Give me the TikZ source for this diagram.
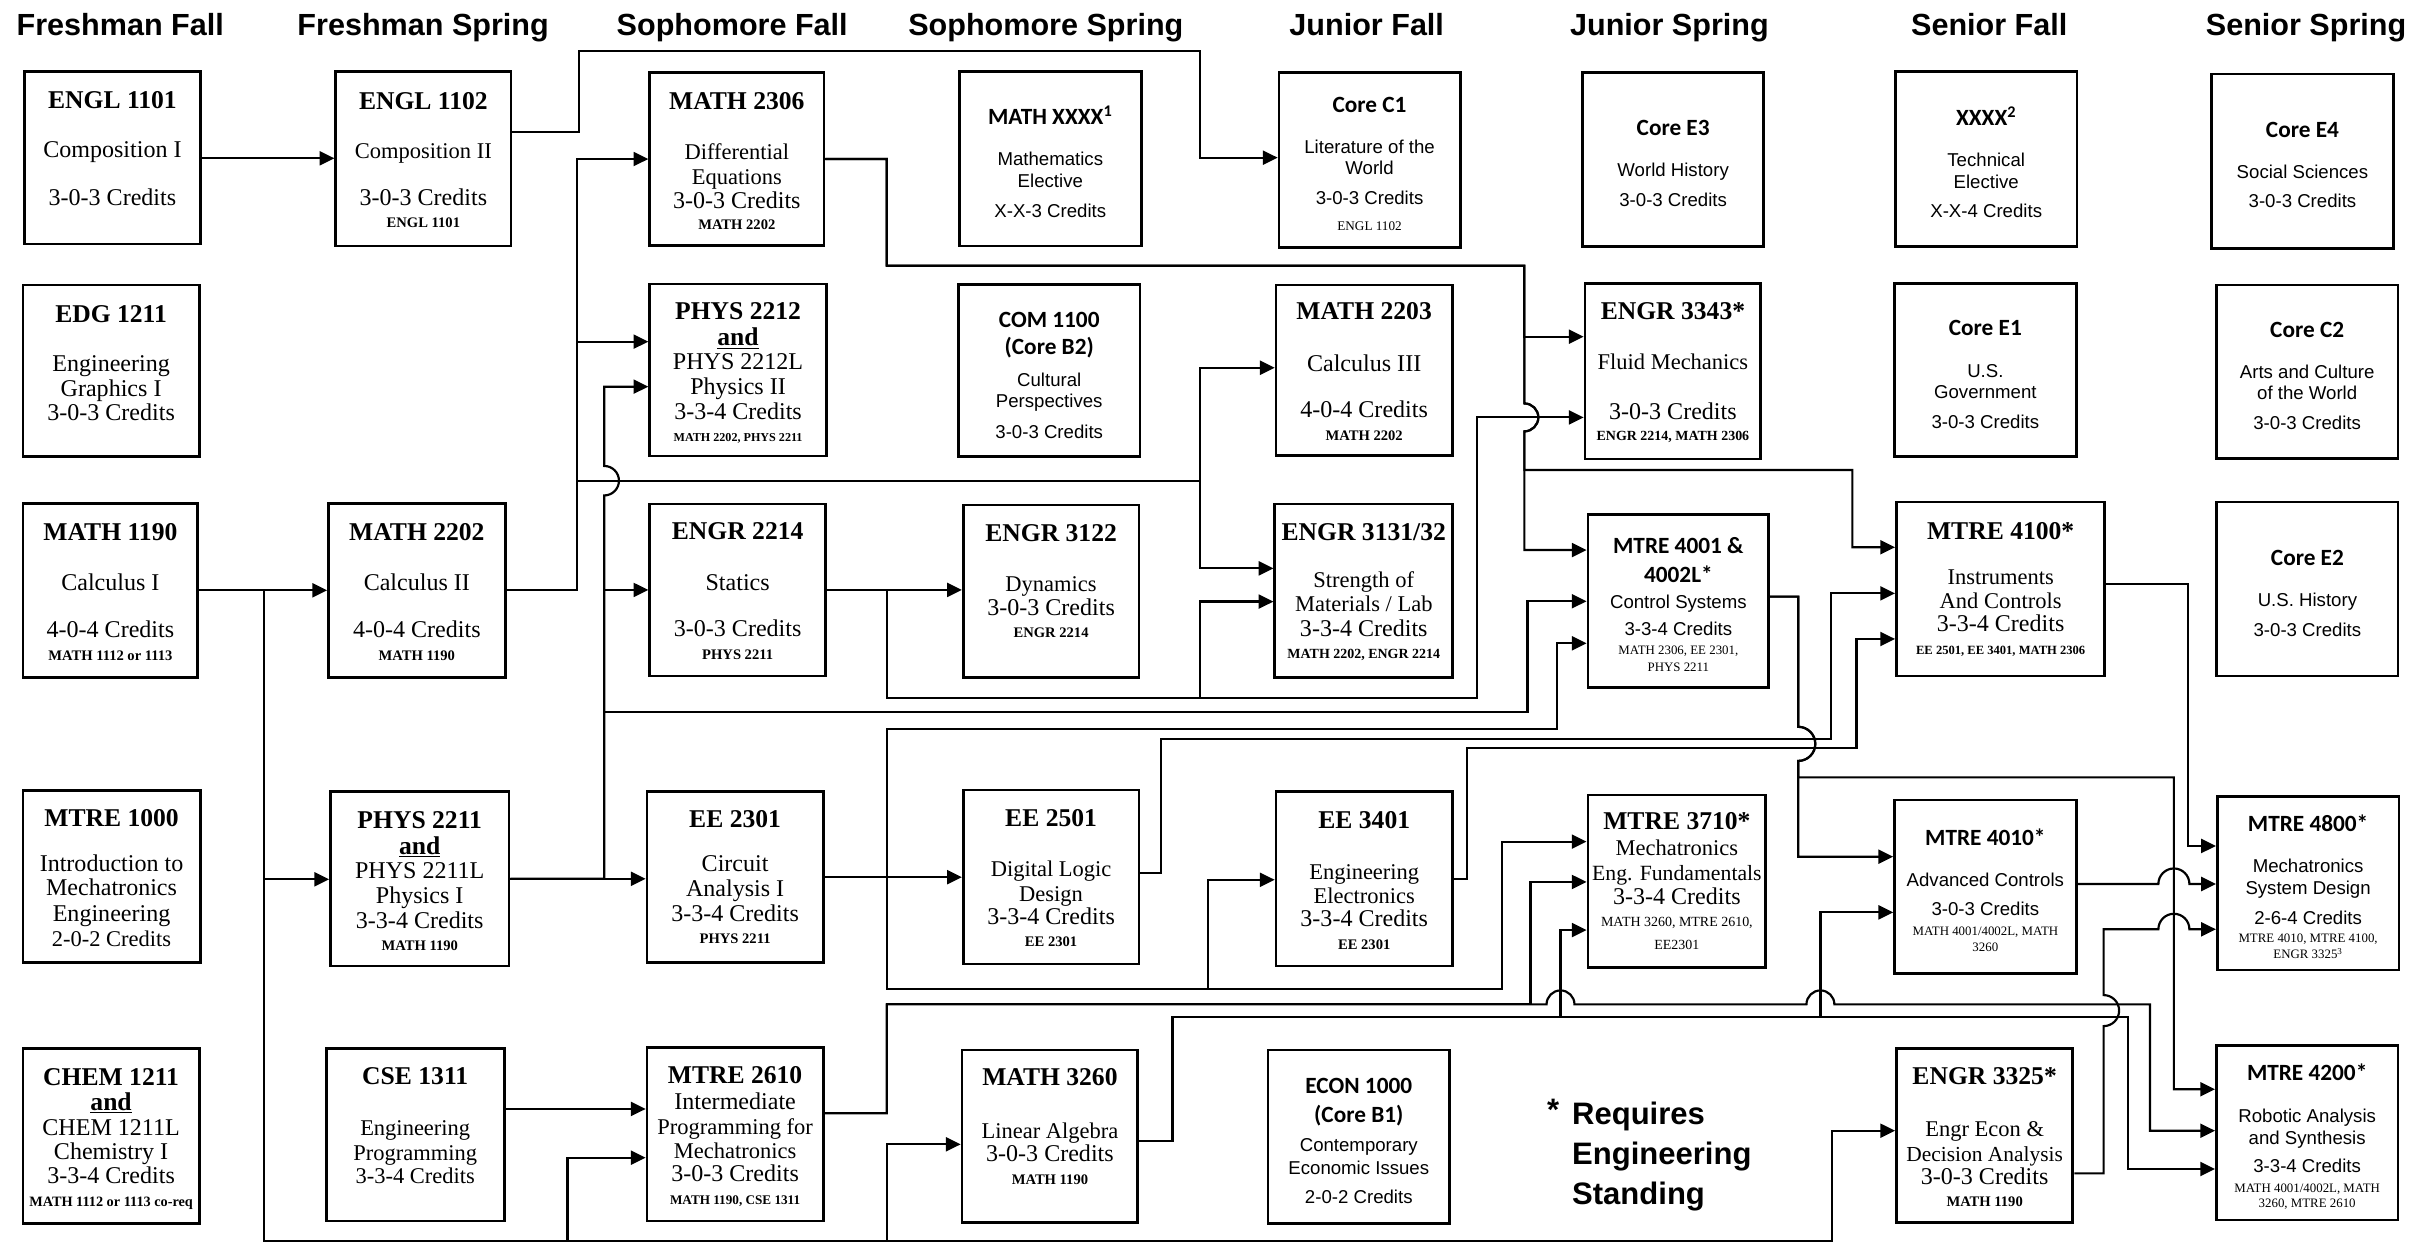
\documentclass[tikz,border=0pt]{standalone}
\usepackage{fontspec}
\setmainfont{Liberation Serif}
\newfontfamily\calibri{Carlito}
\newfontfamily\arialfont{Liberation Sans}
\usetikzlibrary{arrows.meta}
\lineskiplimit=-\maxdimen
\newcommand\ftit{\bfseries\fontsize{16.5}{14}\selectfont}
\newcommand\fbody{\fontsize{14.5}{14}\selectfont}
\newcommand\fcred{\fontsize{15.5}{14}\selectfont}
\newcommand\fpreb{\bfseries\fontsize{9.4}{14}\selectfont}
\newcommand\fpre{\fontsize{8.3}{14}\selectfont}
\newcommand\fctit{\calibri\bfseries\fontsize{15}{14}\selectfont}
\newcommand\fabody{\arialfont\fontsize{12}{14}\selectfont}
% name, left, top, right, bottom, top of text, text
\newcommand{\course}[7]{%
  \node[crs, minimum width={(#4-#2)*1pt}, minimum height={(#5-#3)*1pt}] (#1) at ({(#2+#4)/2},{-(#3+#5)/2}) {};
  \node[txt] (#1t) at ({(#2+#4)/2},{-#6}) {#7};}
\begin{document}
\begin{tikzpicture}[x=1pt, y=1pt,
  crs/.style={draw, line width=1.8pt, inner sep=0pt},
  txt/.style={anchor=north, align=center, inner sep=0pt, font=\fontsize{12}{14}\selectfont},
  hd/.style={anchor=base, inner sep=0pt, font=\arialfont\bfseries\fontsize{19.7}{20}\selectfont},
  ln/.style={line width=1.4pt},
  arr/.style={ln, -{Triangle[length=9.5pt,width=9pt]}}]

	\useasboundingbox (0,0) rectangle (1568,-802);

	\node[hd] (hfrf) at (77.5,-22.6) {Freshman Fall};
	\node[hd] (hfrs) at (272.7,-22.6) {Freshman Spring};
	\node[hd] (hsof) at (471.9,-22.6) {Sophomore Fall};
	\node[hd] (hsos) at (674,-22.6) {Sophomore Spring};
	\node[hd] (hjuf) at (880.8,-22.6) {Junior Fall};
	\node[hd] (hjus) at (1075.9,-22.6) {Junior Spring};
	\node[hd] (hsef) at (1282,-22.6) {Senior Fall};
	\node[hd] (hses) at (1486.2,-22.6) {Senior Spring};

	% freshman fall
	\course{engl1101}{15.9}{46.2}{129}{157.3}{58.5}{\ftit ENGL 1101\\[17.9pt]\fcred Composition I\\[16.8pt]\fcred 3-0-3 Credits}
	\course{edg1211}{14.8}{183.7}{128.4}{294.3}{196.8}{\ftit EDG 1211\\[17.3pt]\fcred Engineering\\[2.1pt]\fcred Graphics I\\[1.7pt]\fcred 3-0-3 Credits}
	\course{math1190}{14.8}{324.4}{127.5}{436.5}{337}{\ftit MATH 1190\\[18.2pt]\fcred Calculus I\\[16.3pt]\fcred 4-0-4 Credits\\[0.9pt]\fpreb MATH 1112 or 1113}
	\course{mtre1000}{14.8}{509.6}{129}{620.4}{521.8}{\ftit MTRE 1000\\[14.9pt]\fcred Introduction to\\[1.5pt]\fcred Mechatronics\\[2.5pt]\fcred Engineering\\[2.2pt]\fbody 2-0-2 Credits}
	\course{chem1211}{14.8}{675.8}{128.4}{788.4}{688.7}{\ftit CHEM 1211\\[1.7pt]\ftit\underline{and}\\[2.1pt]\fcred CHEM 1211L\\[1.7pt]\fcred Chemistry I\\[1.5pt]\fcred 3-3-4 Credits\\[1pt]\fpreb\fontsize{9.2}{14}\selectfont MATH 1112 or 1113 co-req}

	% freshman spring
	\course{engl1102}{216.4}{46.2}{329.3}{158.5}{59.5}{\ftit ENGL 1102\\[17.8pt]\fbody Composition II\\[15.7pt]\fcred 3-0-3 Credits\\[0.7pt]\fpreb ENGL 1101}
	\course{math2202}{211.7}{324.4}{325.6}{436.5}{337}{\ftit MATH 2202\\[18.2pt]\fcred Calculus II\\[16.3pt]\fcred 4-0-4 Credits\\[0.9pt]\fpreb MATH 1190}
	\course{phys2211}{213}{510.2}{328}{622.5}{522.9}{\ftit PHYS 2211\\[2.5pt]\ftit\underline{and}\\[1.7pt]\fcred PHYS 2211L\\[2.1pt]\fcred Physics I\\[2.1pt]\fcred 3-3-4 Credits\\[0.3pt]\fpreb MATH 1190}
	\course{cse1311}{210.3}{675.8}{324.9}{786.9}{687.6}{\ftit CSE 1311\\[19.2pt]\fbody Engineering\\[2.1pt]\fbody Programming\\[0.4pt]\fbody 3-3-4 Credits}

	% sophomore fall
	\course{math2306}{418.7}{46.8}{531}{158.1}{59.5}{\ftit MATH 2306\\[18.1pt]\fbody Differential\\[2.3pt]\fbody Equations\\[1.1pt]\fcred 3-0-3 Credits\\[0pt]\fpreb MATH 2202}
	\course{phys2212}{418.7}{183}{532.6}{293.9}{194.6}{\ftit PHYS 2212\\[3.2pt]\ftit\underline{and}\\[1.3pt]\fcred PHYS 2212L\\[2.1pt]\fcred Physics II\\[2.1pt]\fcred 3-3-4 Credits\\[0.2pt]\fpreb\fontsize{7.8}{14}\selectfont MATH 2202, PHYS 2211}
	\course{engr2214}{418.7}{324.8}{532.1}{435.6}{336.4}{\ftit ENGR 2214\\[18.8pt]\fcred Statics\\[15.7pt]\fcred 3-0-3 Credits\\[1.2pt]\fpreb PHYS 2211}
	\course{ee2301}{417}{510.2}{530.5}{620.4}{522.2}{\ftit EE 2301\\[14.1pt]\fcred Circuit\\[2.1pt]\fcred Analysis I\\[2.1pt]\fcred 3-3-4 Credits\\[0.3pt]\fpreb PHYS 2211}
	\course{mtre2610}{417}{675.2}{530.5}{786.9}{687.3}{\ftit MTRE 2610\\[2.7pt]\fcred Intermediate\\[1.7pt]\fbody Programming for\\[1.5pt]\fbody Mechatronics\\[1.3pt]\fcred 3-0-3 Credits\\[0.7pt]\fpreb\fontsize{8.5}{14}\selectfont MATH 1190, CSE 1311}

	% sophomore spring
	\course{mathxxxx}{618.4}{46.2}{735.4}{158.5}{67.8}{\fctit MATH XXXX\textsuperscript{1}\\[12.9pt]\fabody Mathematics\\[0pt]\fabody Elective\\[5.3pt]\fabody X-X-3 Credits}
	\course{com1100}{617.7}{183.2}{734.7}{294.3}{200.8}{\fctit COM 1100\\[3.8pt]\fctit (Core B2)\\[6.4pt]\fabody Cultural\\[-0.1pt]\fabody Perspectives\\[5.4pt]\fabody 3-0-3 Credits}
	\course{engr3122}{620.8}{325.5}{734}{436.5}{338.1}{\ftit ENGR 3122\\[17.9pt]\fbody Dynamics\\[1.3pt]\fcred 3-0-3 Credits\\[0.6pt]\fpreb ENGR 2214}
	\course{ee2501}{620.8}{509.1}{734}{621.3}{521.8}{\ftit EE 2501\\[17.8pt]\fbody Digital Logic\\[2.1pt]\fbody Design\\[1.2pt]\fcred 3-3-4 Credits\\[0.2pt]\fpreb EE 2301}
	\course{math3260}{620}{676.7}{733.3}{788}{688.7}{\ftit MATH 3260\\[19.6pt]\fbody Linear Algebra\\[1.1pt]\fcred 3-0-3 Credits\\[0.9pt]\fpreb MATH 1190}

	% junior fall
	\course{corec1}{824.3}{46.8}{941}{159.4}{62.2}{\fctit Core C1\\[12.6pt]\fabody Literature of the\\[-0.3pt]\fabody World\\[5.4pt]\fabody 3-0-3 Credits\\[2.8pt]\fontsize{8.5}{14}\selectfont ENGL 1102}
	\course{math2203}{822.4}{183.7}{935.9}{293.4}{194.6}{\ftit MATH 2203\\[19.5pt]\fcred Calculus III\\[16pt]\fcred 4-0-4 Credits\\[0.7pt]\fpreb MATH 2202}
	\course{engr3131}{821.6}{324.8}{936.2}{436.5}{337}{\ftit ENGR 3131/32\\[16.8pt]\fbody Strength of\\[1.1pt]\fbody Materials / Lab\\[2pt]\fcred 3-3-4 Credits\\[0.2pt]\fpreb\fontsize{9}{14}\selectfont MATH 2202, ENGR 2214}
	\course{ee3401}{822.4}{510.2}{936}{622.5}{522.9}{\ftit EE 3401\\[18.9pt]\fbody Engineering\\[1pt]\fbody Electronics\\[1.4pt]\fcred 3-3-4 Credits\\[0.6pt]\fpreb EE 2301}
	\course{econ1000}{817.2}{676.7}{934.2}{788.4}{694.4}{\fctit ECON 1000\\[4.7pt]\fctit (Core B1)\\[4.9pt]\fabody Contemporary\\[0.6pt]\fabody Economic Issues\\[5.3pt]\fabody 2-0-2 Credits}

	% junior spring
	\course{coree3}{1020}{46.8}{1136.6}{159}{77.3}{\fctit Core E3\\[12.3pt]\fabody World History\\[5.3pt]\fabody 3-0-3 Credits}
	\course{engr3343}{1021.5}{182.6}{1134.8}{295.8}{194.6}{\ftit ENGR 3343*\\[18.5pt]\fbody Fluid Mechanics\\[17.9pt]\fcred 3-0-3 Credits\\[-0.2pt]\fpreb\fontsize{9}{14}\selectfont ENGR 2214, MATH 2306}
	\course{mtre4001}{1023.4}{331.5}{1139.9}{443}{346.4}{\fctit MTRE 4001 \&\\[4.3pt]\fctit 4002L*\\[3.1pt]\fabody Control Systems\\[3.2pt]\fabody 3-3-4 Credits\\[-1.7pt]\fpre MATH 2306, EE 2301,\\[-3.3pt]\fpre PHYS 2211}
	\course{mtre3710}{1023.4}{512.3}{1138}{623.4}{523.3}{\ftit MTRE 3710*\\[3pt]\fbody Mechatronics\\[2.1pt]\fontsize{14}{14}\selectfont Eng. Fundamentals\\[1.4pt]\fcred 3-3-4 Credits\\[0pt]\fontsize{9}{14}\selectfont MATH 3260, MTRE 2610,\\[0.8pt]\fontsize{9}{14}\selectfont EE2301}

	% senior fall
	\course{xxxx}{1221.5}{46.2}{1338.6}{159}{68.4}{\fctit XXXX\textsuperscript{2}\\[12.3pt]\fabody Technical\\[0.4pt]\fabody Elective\\[4.9pt]\fabody X-X-4 Credits}
	\course{coree1}{1221}{182.6}{1338}{294.3}{206.2}{\fctit Core E1\\[13pt]\fabody U.S.\\[-0.7pt]\fabody Government\\[5.3pt]\fabody 3-0-3 Credits}
	\course{mtre4100}{1222.2}{323.5}{1356.5}{435.7}{336.4}{\ftit MTRE 4100*\\[14.8pt]\fbody Instruments\\[1.5pt]\fbody And Controls\\[1.3pt]\fcred 3-3-4 Credits\\[0.7pt]\fpreb\fontsize{8.1}{14}\selectfont EE 2501, EE 3401, MATH 2306}
	\course{mtre4010}{1221}{515.6}{1338}{627.3}{533.8}{\fctit MTRE 4010*\\[12.3pt]\fabody Advanced Controls\\[5.3pt]\fabody 3-0-3 Credits\\[-1.7pt]\fpre MATH 4001/4002L, MATH\\[-3.7pt]\fpre 3260}
	\course{engr3325}{1222.2}{675.6}{1335.9}{788}{687.6}{\ftit ENGR 3325*\\[19.6pt]\fbody Engr Econ \&\\[2.1pt]\fontsize{13.8}{14}\selectfont Decision Analysis\\[0.9pt]\fcred 3-0-3 Credits\\[0.2pt]\fpreb MATH 1190}

	% senior spring
	\course{coree4}{1425.3}{47.7}{1542.4}{160}{78.3}{\fctit Core E4\\[12.4pt]\fabody Social Sciences\\[5.3pt]\fabody 3-0-3 Credits}
	\course{corec2}{1428.4}{183.7}{1545.4}{295.6}{207.2}{\fctit Core C2\\[12.4pt]\fabody Arts and Culture\\[-0.1pt]\fabody of the World\\[5.4pt]\fabody 3-0-3 Credits}
	\course{coree2}{1428.7}{323.5}{1545.4}{435.7}{354.4}{\fctit Core E2\\[12.3pt]\fabody U.S. History\\[5.4pt]\fabody 3-0-3 Credits}
	\course{mtre4800}{1429}{513.4}{1546}{625.1}{525.2}{\fctit MTRE 4800*\\[12.3pt]\fabody Mechatronics\\[0pt]\fabody System Design\\[5.3pt]\fabody 2-6-4 Credits\\[-2.2pt]\fpre MTRE 4010, MTRE 4100,\\[-3.6pt]\fpre ENGR 3325\textsuperscript{3}}
	\course{mtre4200}{1428.4}{673.9}{1545.4}{786.2}{685.2}{\fctit MTRE 4200*\\[13.4pt]\fabody Robotic Analysis\\[0pt]\fabody and Synthesis\\[4.3pt]\fabody 3-3-4 Credits\\[-1pt]\fpre MATH 4001/4002L, MATH\\[-4.4pt]\fpre 3260, MTRE 2610}

	\node[anchor=base, inner sep=0pt, font=\arialfont\bfseries\fontsize{20}{20}\selectfont] (star) at (1001,-722) {*};
	\node[anchor=north west, align=left, inner sep=0pt, font=\arialfont\bfseries\fontsize{20}{25.5}\selectfont] (reqnote) at (1013,-710.3) {Requires\\Engineering\\Standing};

	% english
	\draw[arr] (engl1101.east |- 0,-102) -- (engl1102.west |- 0,-102);
	\draw[arr] (engl1102.east |- 0,-85.3) -| (373,-32.7) -| (773.4,-101.6) -- (corec1.west |- 0,-101.6);

	% math 2202
	\draw[arr] (math2202.east) -| (371.8,-102.5) -- (math2306.west |- 0,-102.5);
	\draw[arr] (math2202.east) -| (371.8,-220.2) -- (phys2212.west |- 0,-220.2);
	\draw[arr] (math2202.east) -| (371.8,-309.8) -| (773.4,-237) -- (math2203.west |- 0,-237);
	\draw[arr] (math2202.east) -| (371.8,-309.8) -| (773.4,-366.3) -- (engr3131.west |- 0,-366.3);

	% phys 2211
	\draw[arr] (phys2211.east) -- (ee2301.west |- phys2211.east);
	\draw[arr] (phys2211.east) -| (389.4,-380.2) -- (engr2214.west |- 0,-380.2);
	\draw[arr] (phys2211.east) -| (389.4,-319.3) arc[start angle=-90, end angle=90, radius=9.5] -- (389.4,-249.2) -- (phys2212.west |- 0,-249.2);
	\draw[arr] (phys2211.east) -| (389.4,-458.6) -| (984.4,-387.5) -- (mtre4001.west |- 0,-387.5);

	% math 2306
	\draw[arr] (math2306.east) -| (571.5,-171.2) -| (982.4,-217) -- (engr3343.west |- 0,-217);
	\draw[arr] (math2306.east) -| (571.5,-171.2) -| (982.4,-260) arc[start angle=90, end angle=-90, radius=9] -- (982.4,-354.5) -- (mtre4001.west |- 0,-354.5);
	\draw[arr] (math2306.east) -| (571.5,-171.2) -| (982.4,-260) arc[start angle=90, end angle=-90, radius=9] |- (1193.8,-302.9) |- (mtre4100.west |- 0,-352.7);

	% engr 2214
	\draw[arr] (engr2214.east) -- (engr3122.west |- engr2214.east);
	\draw[arr] (engr2214.east) -| (571.5,-449.6) -| (773.4,-387.7) -- (engr3131.west |- 0,-387.7);
	\draw[arr] (engr2214.east) -| (571.5,-449.6) -| (952,-269) -- (engr3343.west |- 0,-269);

	% ee 2301
	\draw[arr] (ee2301.east) -- (ee2501.west |- ee2301.east);
	\draw[arr] (ee2301.east) -| (571.5,-470) -| (1003.3,-414.6) -- (mtre4001.west |- 0,-414.6);
	\draw[arr] (ee2301.east) -| (571.5,-637.4) -| (778.5,-567) -- (ee3401.west |- 0,-567);
	\draw[arr] (ee2301.east) -| (571.5,-637.4) -| (968,-542.4) -- (mtre3710.west |- 0,-542.4);

	% ee 2501, ee 3401
	\draw[arr] (ee2501.east |- 0,-562.8) -| (748.2,-476.5) -| (1180,-382.4) -- (mtre4100.west |- 0,-382.4);
	\draw[arr] (ee3401.east) -| (945.3,-482.3) -| (1196.5,-411.8) -- (mtre4100.west |- 0,-411.8);

	% mtre 4001
	\draw[arr] (mtre4001.east |- 0,-384.5) -| (1158.9,-468.4) arc[start angle=90, end angle=-90, radius=11] -- (1158.9,-552.1) -- (mtre4010.west |- 0,-552.1);
	\draw[arr] (mtre4001.east |- 0,-384.5) -| (1158.9,-468.4) arc[start angle=90, end angle=-90, radius=11] |- (1401,-501) |- (mtre4200.west |- 0,-702);

	% mtre 2610
	\draw[arr] (mtre2610.east |- 0,-717.5) -| (571.5,-647.3) -| (986.4,-568.4) -- (mtre3710.west |- 0,-568.4);
	\draw[arr] (mtre2610.east |- 0,-717.5) -| (571.5,-647.3) -- (996.7,-647.3) arc[start angle=180, end angle=0, radius=9] -- (1164.2,-647.3) arc[start angle=180, end angle=0, radius=9] -| (1385.6,-728.7) -- (mtre4200.west |- 0,-728.7);

	% math 3260
	\draw[arr] (math3260.east |- 0,-735.3) -| (755.6,-655.2) -| (1005.7,-599.4) -- (mtre3710.west |- 0,-599.4);
	\draw[arr] (math3260.east |- 0,-735.3) -| (755.6,-655.2) -| (1173.2,-588) -- (mtre4010.west |- 0,-588);
	\draw[arr] (math3260.east |- 0,-735.3) -| (755.6,-655.2) -| (1371.2,-753.4) -- (mtre4200.west |- 0,-753.4);

	% math 1190
	\draw[arr] (math1190.east) -- (math2202.west |- math1190.east);
	\draw[arr] (math1190.east) -| (170.2,-566.7) -- (phys2211.west |- 0,-566.7);
	\draw[arr] (math1190.east) -| (170.2,-800) -| (365.7,-746.1) -- (mtre2610.west |- 0,-746.1);
	\draw[arr] (math1190.east) -| (170.2,-800) -| (571.5,-737.5) -- (math3260.west |- 0,-737.5);
	\draw[arr] (math1190.east) -| (170.2,-800) -| (1180.8,-728.7) -- (engr3325.west |- 0,-728.7);

	\draw[arr] (cse1311.east |- 0,-714.7) -- (mtre2610.west |- 0,-714.7);

	% senior year
	\draw[arr] (mtre4100.east |- 0,-376.6) -| (1410.2,-545.2) -- (mtre4800.west |- 0,-545.2);
	\draw[arr] (mtre4010.east |- 0,-569.7) -- (1391,-569.7) arc[start angle=180, end angle=0, radius=10] -- (mtre4800.west |- 0,-569.7);
	\draw[arr] (engr3325.east |- 0,-756.2) -| (1355.7,-661.3) arc[start angle=-90, end angle=90, radius=10] -- (1355.7,-598.9) -- (1391,-598.9) arc[start angle=180, end angle=0, radius=10] -- (mtre4800.west |- 0,-598.9);

\end{tikzpicture}
\end{document}
